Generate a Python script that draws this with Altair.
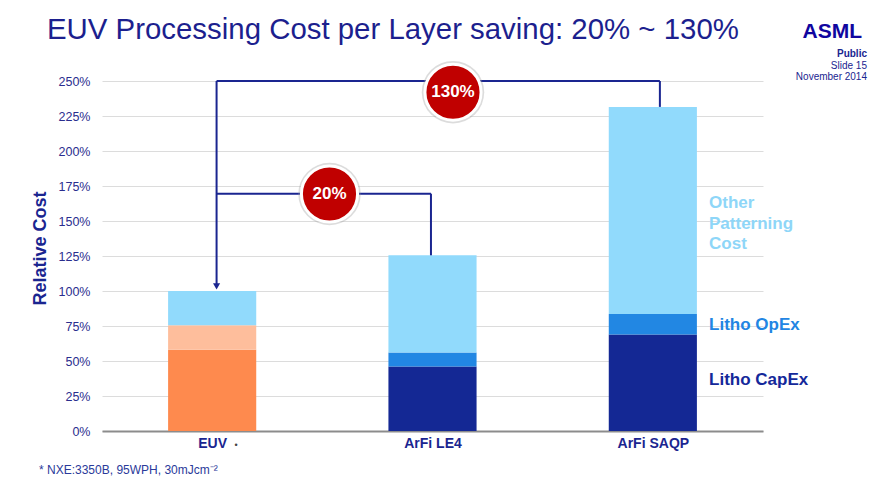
import altair as alt
import pandas as pd

# ---- data ----
categories = ["EUV", "ArFi LE4", "ArFi SAQP"]
capex = [58, 46, 69]          # Litho CapEx (%)
opex = [17.5, 10, 14.5]       # Litho OpEx (%)
other = [24.5, 69.5, 148]     # Other patterning cost (%)
components = ["Litho CapEx", "Litho OpEx", "Other Patterning Cost"]
y_ticks = [0, 25, 50, 75, 100, 125, 150, 175, 200, 225, 250]

savings_labels = ["130%", "20%"]

NAVY = "#1A2590"
FONT = "Liberation Sans"

rows = []
for i, cat in enumerate(categories):
    base = 0.0
    for comp, vals in zip(components, [capex, opex, other]):
        v = vals[i]
        prefix = "EUV " if cat == "EUV" else "ArFi "
        rows.append(dict(cat=cat, comp=comp, key=prefix + comp,
                         x0=i + 0.3, x1=i + 0.7, y0=base, y1=base + v))
        base += v
df = pd.DataFrame(rows)
totals = df.groupby("cat", sort=False)["y1"].max().tolist()

color_domain = ["EUV Litho CapEx", "EUV Litho OpEx", "EUV Other Patterning Cost",
                "ArFi Litho CapEx", "ArFi Litho OpEx", "ArFi Other Patterning Cost"]
color_range = ["#FE8A4E", "#FEBE9C", "#91DAFC", "#142894", "#2287E3", "#91DAFC"]

xscale = alt.Scale(domain=[0, 3], nice=False, zero=False)
yscale = alt.Scale(domain=[0, 250], nice=False)

label_expr = " : ".join(
    f"datum.value == {i + 0.5} ? '{c}'" for i, c in enumerate(categories)) + " : ''"

xaxis = alt.Axis(values=[0.5, 1.5, 2.5], labelExpr=label_expr, grid=False,
                 ticks=False, domainColor="#8C8C8C", domainWidth=2,
                 labelFont=FONT, labelFontSize=14, labelFontWeight="bold",
                 labelColor=NAVY, labelPadding=5, labelOverlap=False, title=None)
yaxis = alt.Axis(values=y_ticks, labelExpr="datum.value + '%'", grid=True,
                 gridColor="#DCDCDC", gridWidth=1, domain=False, ticks=False,
                 labelOverlap=False, labelPadding=12, labelFont=FONT,
                 labelFontSize=12.5, labelColor="#2A2D8E", title="Relative Cost",
                 titleFont=FONT, titleFontSize=18, titleFontWeight="bold",
                 titleColor=NAVY, titleX=-62, titleY=167, titleAngle=270,
                 titleAlign="center", titleBaseline="middle")


def X(field):
    return alt.X(field, scale=xscale, axis=xaxis)


def Y(field):
    return alt.Y(field, scale=yscale, axis=yaxis)


bars = alt.Chart(df).mark_bar(cornerRadius=0).encode(
    x=X("x0:Q"), x2="x1:Q", y=Y("y0:Q"), y2="y1:Q",
    color=alt.Color("key:N", scale=alt.Scale(domain=color_domain, range=color_range),
                    legend=None),
)

# connector brackets (positions in data units)
x_arrow = 0.52
x_le4 = 1.493
x_saqp = 2.532
seg = pd.DataFrame([
    dict(x=x_arrow, x2=x_saqp, y=250, y2=250),
    dict(x=x_saqp, x2=x_saqp, y=250, y2=totals[2]),
    dict(x=x_arrow, x2=x_arrow, y=250, y2=105),
    dict(x=x_arrow, x2=x_le4, y=169.5, y2=169.5),
    dict(x=x_le4, x2=x_le4, y=169.5, y2=totals[1]),
])
lines = alt.Chart(seg).mark_rule(color=NAVY, strokeWidth=2).encode(
    x=X("x:Q"), x2="x2:Q", y=Y("y:Q"), y2="y2:Q")

arrow = alt.Chart(pd.DataFrame([dict(x=x_arrow, y=103.3)])).mark_point(
    shape="triangle-down", filled=True, color=NAVY, size=50, opacity=1).encode(
    x=X("x:Q"), y=Y("y:Q"))

badges = pd.DataFrame([
    dict(x=1.593, y=242.0, label=savings_labels[0]),
    dict(x=1.0325, y=169.3, label=savings_labels[1]),
])
halo = alt.Chart(badges).mark_circle(color="#9A9A9A", opacity=0.35, size=3900).encode(
    x=X("x:Q"), y=Y("y:Q"))
circles = alt.Chart(badges).mark_point(
    shape="circle", filled=True, fill="#C00000", stroke="white", strokeWidth=3,
    size=3150, opacity=1).encode(x=X("x:Q"), y=Y("y:Q"))
badge_text = alt.Chart(badges).mark_text(
    font=FONT, fontSize=17, fontWeight="bold", color="white",
    align="center", baseline="middle").encode(
    x=X("x:Q"), y=Y("y:Q"), text="label:N")

legend_df = pd.DataFrame([
    dict(x=2.755, y=163.0, label="Other", c="#8ED6F8"),
    dict(x=2.755, y=148.2, label="Patterning", c="#8ED6F8"),
    dict(x=2.755, y=133.6, label="Cost", c="#8ED6F8"),
    dict(x=2.755, y=75.7, label="Litho OpEx", c="#2285E3"),
    dict(x=2.755, y=36.4, label="Litho CapEx", c="#14289A"),
])
legend_text = alt.Chart(legend_df).mark_text(
    font=FONT, fontSize=17, fontWeight="bold", align="left", baseline="middle").encode(
    x=X("x:Q"), y=Y("y:Q"), text="label:N",
    color=alt.Color("c:N", scale=None))

star = alt.Chart(pd.DataFrame([dict(x=0.608, y=-10.2, t="•")])).mark_text(
    font=FONT, fontSize=9, color="#444444", align="center", baseline="middle").encode(
    x=X("x:Q"), y=Y("y:Q"), text="t:N")

one = pd.DataFrame([dict(a=1)])


def deco(text, x, y, size, weight="normal", align="left", color=NAVY):
    return alt.Chart(one).mark_text(
        text=text, font=FONT, fontSize=size, fontWeight=weight, align=align,
        baseline="alphabetic", color=color).encode(x=alt.value(x), y=alt.value(y))


title = deco("EUV Processing Cost per Layer saving: 20% ~ 130%", -55, -42.5, 29.4,
             color="#1C1F8E")
logo = deco("ASML", 760, -43, 21, weight="bold", align="right", color="#10069F")
pub = deco("Public", 765, -24, 10, weight="bold", align="right")
slide = deco("Slide 15", 765, -12.5, 10, align="right")
date = deco("November 2014", 765, -1, 10, align="right")
foot = deco("* NXE:3350B, 95WPH, 30mJcm⁻²", -63, 393, 12, color="#2A3A9A")

chart = alt.layer(
    bars, lines, arrow, halo, circles, badge_text, legend_text, star,
    title, logo, pub, slide, date, foot,
).properties(
    width=661, height=350,
    autosize=alt.AutoSizeParams(type="none"),
    padding={"left": 94, "top": 73, "right": 108, "bottom": 50},
    background="white",
).configure_view(stroke=None)

chart.save("out.html", embed_options={"renderer": "svg", "actions": False})
